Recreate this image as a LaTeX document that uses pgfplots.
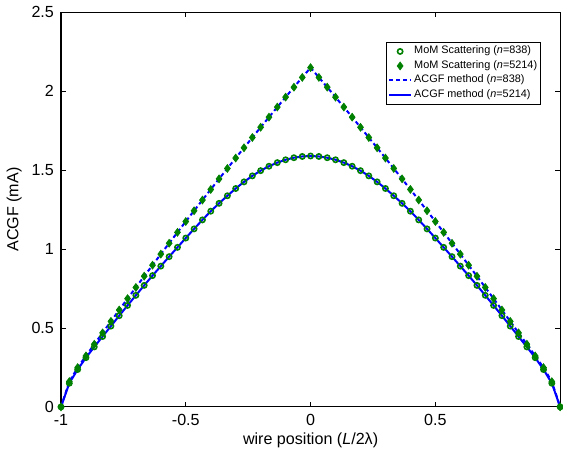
\documentclass[border=0pt]{standalone}
\usepackage{fontspec}
\setmainfont{Liberation Sans}
\usepackage{pgfplots}
\pgfplotsset{compat=1.18}
\usepackage{pgfplotstable}
\definecolor{mgreen}{rgb}{0,0.5,0}
% x, lower curve (circles / solid), upper curve (diamonds / dashed)
\pgfplotstableread{
x lo hi
-1.0000 0.000 0.000
-0.9667 0.150 0.160
-0.9333 0.237 0.249
-0.9000 0.312 0.323
-0.8667 0.380 0.397
-0.8333 0.446 0.469
-0.8000 0.512 0.542
-0.7667 0.578 0.614
-0.7333 0.643 0.686
-0.7000 0.707 0.757
-0.6667 0.770 0.828
-0.6333 0.832 0.898
-0.6000 0.892 0.968
-0.5667 0.952 1.037
-0.5333 1.011 1.106
-0.5000 1.070 1.175
-0.4667 1.128 1.243
-0.4333 1.185 1.311
-0.4000 1.240 1.378
-0.3667 1.290 1.445
-0.3333 1.338 1.511
-0.3000 1.384 1.577
-0.2667 1.426 1.642
-0.2333 1.464 1.707
-0.2000 1.497 1.772
-0.1667 1.525 1.836
-0.1333 1.548 1.900
-0.1000 1.566 1.963
-0.0667 1.579 2.026
-0.0333 1.587 2.088
0.0000 1.590 2.150
0.0333 1.587 2.088
0.0667 1.579 2.026
0.1000 1.566 1.963
0.1333 1.548 1.900
0.1667 1.525 1.836
0.2000 1.497 1.772
0.2333 1.464 1.707
0.2667 1.426 1.642
0.3000 1.384 1.577
0.3333 1.338 1.511
0.3667 1.290 1.445
0.4000 1.240 1.378
0.4333 1.185 1.311
0.4667 1.128 1.243
0.5000 1.070 1.175
0.5333 1.011 1.106
0.5667 0.952 1.037
0.6000 0.892 0.968
0.6333 0.832 0.898
0.6667 0.770 0.828
0.7000 0.707 0.757
0.7333 0.643 0.686
0.7667 0.578 0.614
0.8000 0.512 0.542
0.8333 0.446 0.469
0.8667 0.380 0.397
0.9000 0.312 0.323
0.9333 0.237 0.249
0.9667 0.150 0.160
1.0000 0.000 0.000
}\acgf
\begin{document}
\begin{tikzpicture}
\begin{axis}[width=248pt,height=196pt,scale only axis,
 xmin=-1,xmax=1,ymin=0,ymax=2.5,
 xtick={-1,-0.5,0,0.5},ytick={0,0.5,1,1.5,2,2.5},
 tick align=inside,major tick length=2.5pt,axis line style={line width=0.5pt},
 every tick/.style={black,line width=0.4pt},
 /pgf/number format/assume math mode=true,
 tick label style={font=\fontsize{8}{9}\selectfont},
 label style={font=\fontsize{8}{9}\selectfont},
 xlabel={wire position (\textit{L}/2λ)},ylabel={ACGF (mA)},
 xlabel style={yshift=3pt},ylabel style={yshift=-2pt},
 clip=false,
 legend style={at={(rel axis cs:0.962,0.925)},anchor=north east,
  font=\fontsize{5.4}{5.9}\selectfont,draw=black,line width=0.4pt,
  inner sep=0.8pt,row sep=-0.2pt,nodes={inner sep=1pt}},
 legend cell align=left,
 legend image code/.code={\draw[mark repeat=2,mark phase=2,#1] plot coordinates {(0pt,0pt) (5.5pt,0pt) (11pt,0pt)};}]
\addplot[only marks,mark=o,mark size=1.3pt,mgreen,mark options={line width=0.8pt}] table[x=x,y=lo]{\acgf};
\addlegendentry{MoM Scattering (\textit{n}=838)}
\addplot[only marks,mark=diamond*,mark size=1.9pt,mgreen] table[x=x,y=hi]{\acgf};
\addlegendentry{MoM Scattering (\textit{n}=5214)}
\addplot[blue,line width=1pt,dash pattern=on 2pt off 1.5pt] table[x=x,y=hi]{\acgf};
\addlegendentry{ACGF method (\textit{n}=838)}
\addplot[blue,line width=1pt] table[x=x,y=lo]{\acgf};
\addlegendentry{ACGF method (\textit{n}=5214)}
\end{axis}
\end{tikzpicture}
\end{document}
